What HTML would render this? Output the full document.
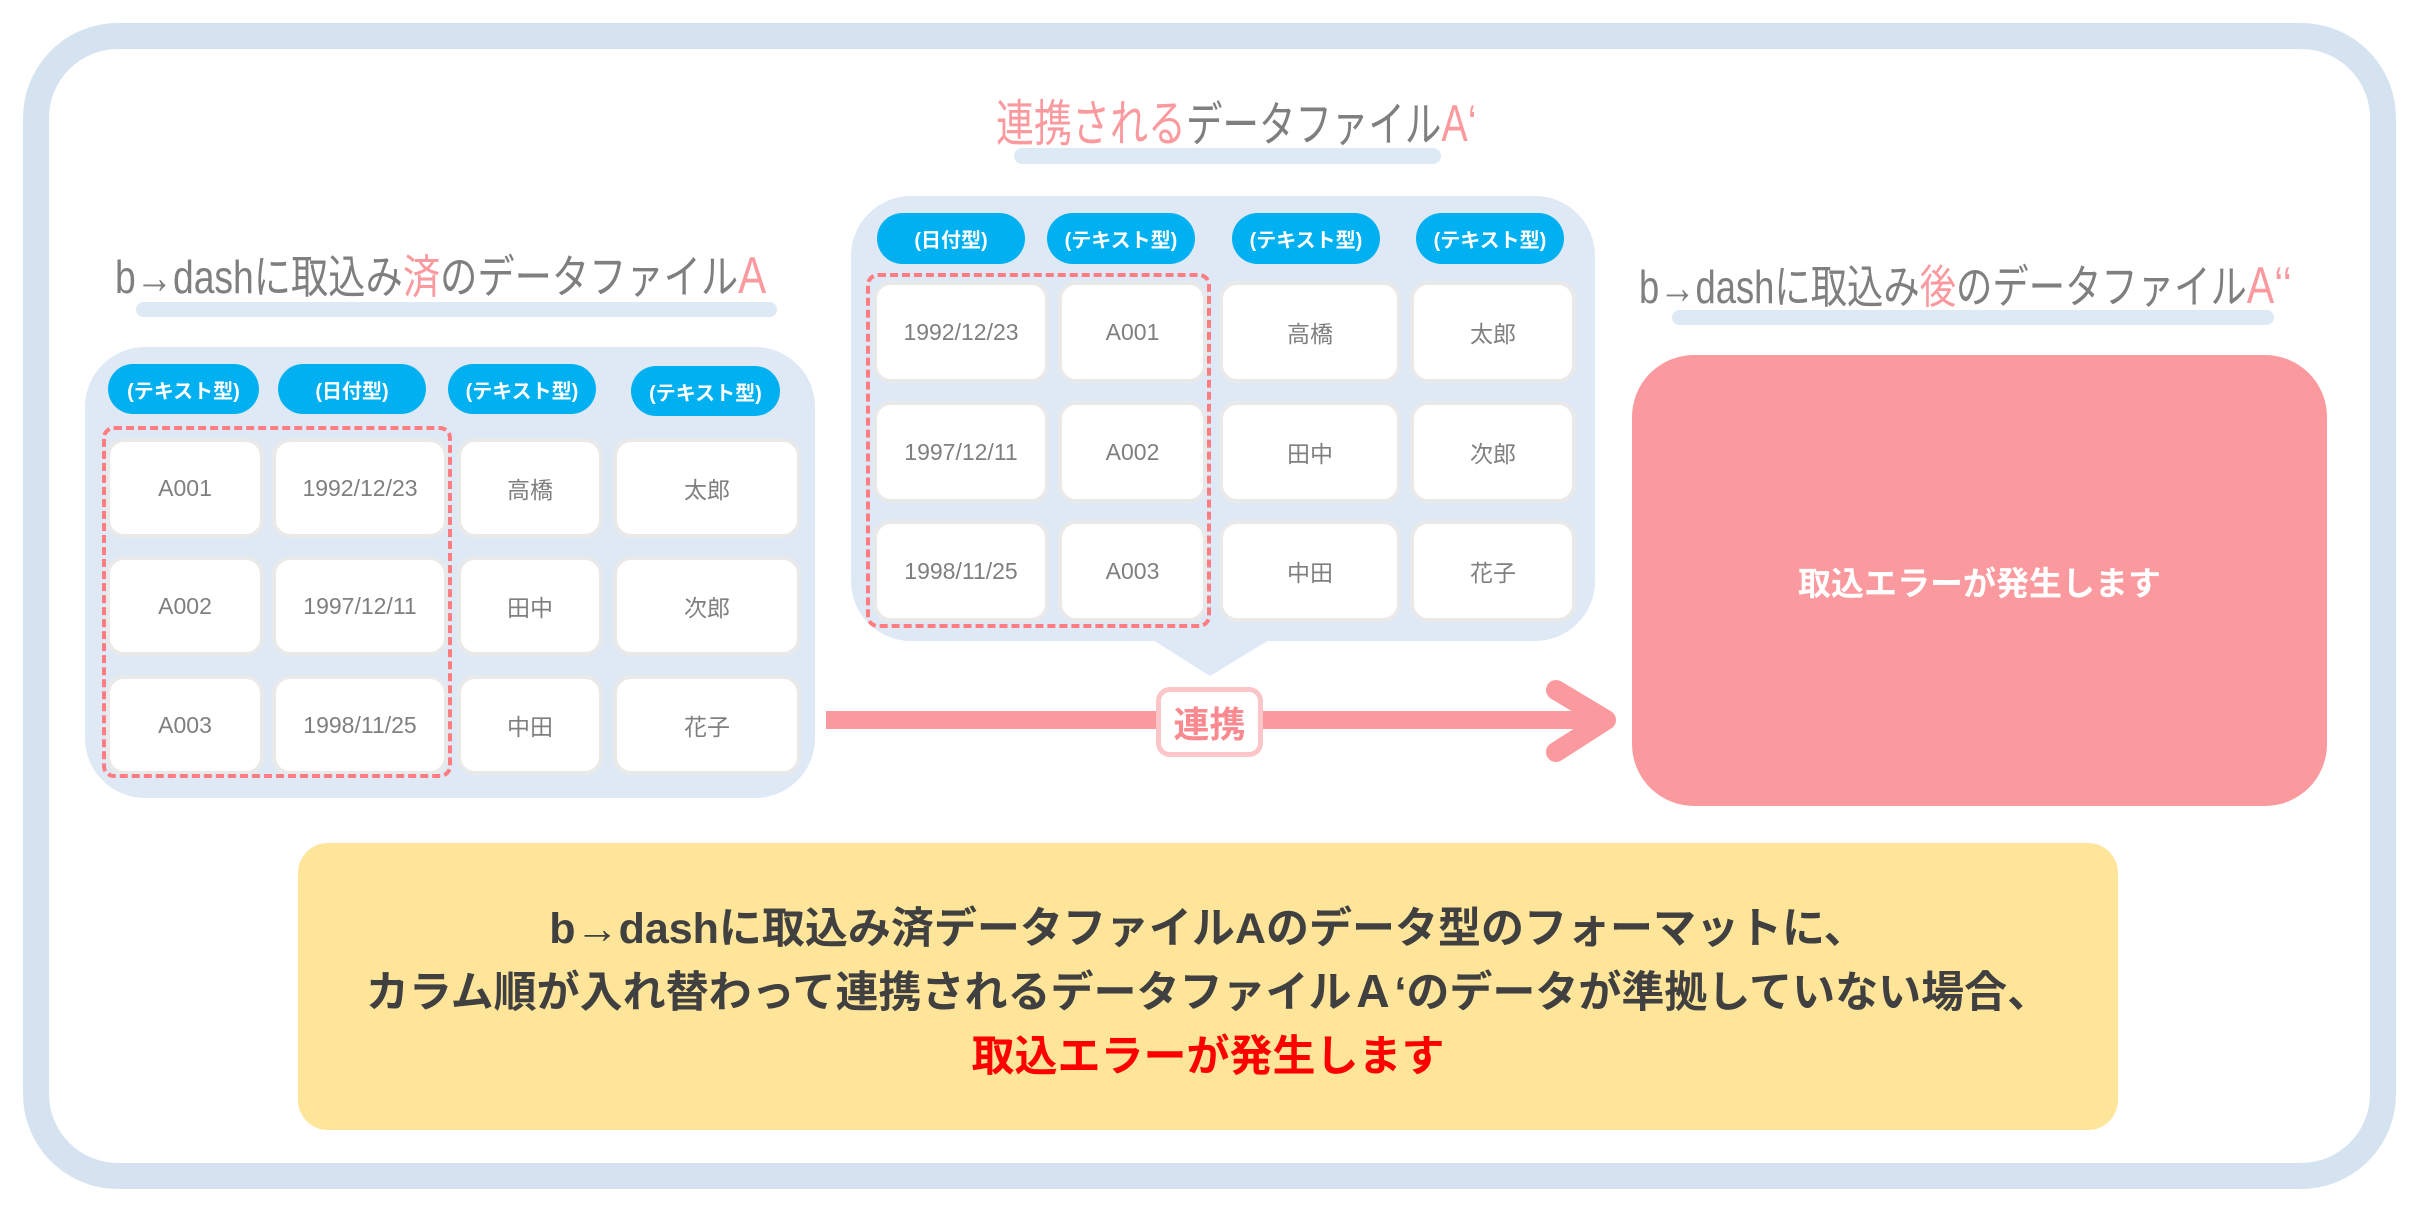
<!DOCTYPE html>
<html><head><meta charset="utf-8"><style>
*{margin:0;padding:0;box-sizing:border-box}
body{width:2421px;height:1211px;background:#fff;position:relative;overflow:hidden;font-family:"Liberation Sans","Noto Sans CJK JP",sans-serif}
.a{position:absolute}
.frame{left:23px;top:23px;width:2373px;height:1166px;border:26px solid #d5e3f0;border-radius:95px;background:#fff}
.bar{background:#dde9f4;border-radius:10px}
.title{font-size:46px;color:#7f7f7f;white-space:nowrap;line-height:1;transform-origin:left top}
.pk{color:#fa9a9f}
.panel{background:#dee9f5;border-radius:60px}
.pill{background:#00b0f0;color:#fff;font-weight:bold;font-size:20px;border-radius:26px;display:flex;align-items:center;justify-content:center}
.cell{background:#fff;border:4px solid #e9e9e9;border-radius:18px;color:#7f7f7f;font-size:23px;display:flex;align-items:center;justify-content:center}
.dash{border:4px dashed #ff7c80;border-radius:12px}
</style></head><body>
<div class="a frame"></div>

<!-- left title -->
<div class="a bar" style="left:136px;top:302px;width:641px;height:15px"></div>
<div class="a title" style="left:115px;top:250px;transform:scaleX(0.81)">b→dashに取込み<span class="pk">済</span>のデータファイル<span class="pk" style="font-size:52px">A</span></div>

<!-- left panel -->
<div class="a panel" style="left:85px;top:347px;width:730px;height:451px"></div>
<div class="a pill" style="left:108px;top:364px;width:151px;height:50px">(テキスト型)</div>
<div class="a pill" style="left:278px;top:364px;width:148px;height:50px">(日付型)</div>
<div class="a pill" style="left:448px;top:364px;width:148px;height:50px">(テキスト型)</div>
<div class="a pill" style="left:631px;top:366px;width:149px;height:50px">(テキスト型)</div>

<div class="a cell" style="left:106px;top:438px;width:158px;height:100px">A001</div>
<div class="a cell" style="left:272px;top:438px;width:176px;height:100px">1992/12/23</div>
<div class="a cell" style="left:457px;top:438px;width:146px;height:100px">高橋</div>
<div class="a cell" style="left:613px;top:438px;width:188px;height:100px">太郎</div>
<div class="a cell" style="left:106px;top:556px;width:158px;height:100px">A002</div>
<div class="a cell" style="left:272px;top:556px;width:176px;height:100px">1997/12/11</div>
<div class="a cell" style="left:457px;top:556px;width:146px;height:100px">田中</div>
<div class="a cell" style="left:613px;top:556px;width:188px;height:100px">次郎</div>
<div class="a cell" style="left:106px;top:675px;width:158px;height:100px">A003</div>
<div class="a cell" style="left:272px;top:675px;width:176px;height:100px">1998/11/25</div>
<div class="a cell" style="left:457px;top:675px;width:146px;height:100px">中田</div>
<div class="a cell" style="left:613px;top:675px;width:188px;height:100px">花子</div>
<div class="a dash" style="left:102px;top:426px;width:350px;height:352px"></div>

<!-- middle title -->
<div class="a bar" style="left:1014px;top:148px;width:427px;height:16px"></div>
<div class="a title" style="left:996px;top:98px;font-size:48px;transform:scaleX(0.76)"><span class="pk" style="font-size:50px">連携される</span>データファイル<span class="pk" style="font-size:52px">A‘</span></div>

<!-- middle panel -->
<div class="a panel" style="left:851px;top:196px;width:744px;height:445px"></div>
<svg class="a" style="left:0;top:0" width="2421" height="1211"><polygon points="1153,640 1269,640 1210,676" fill="#dee9f5"/></svg>
<div class="a pill" style="left:877px;top:213px;width:148px;height:51px">(日付型)</div>
<div class="a pill" style="left:1047px;top:213px;width:148px;height:51px">(テキスト型)</div>
<div class="a pill" style="left:1232px;top:213px;width:148px;height:51px">(テキスト型)</div>
<div class="a pill" style="left:1416px;top:213px;width:148px;height:51px">(テキスト型)</div>

<div class="a cell" style="left:873px;top:281px;width:176px;height:102px">1992/12/23</div>
<div class="a cell" style="left:1058px;top:281px;width:149px;height:102px">A001</div>
<div class="a cell" style="left:1219px;top:281px;width:182px;height:102px">高橋</div>
<div class="a cell" style="left:1410px;top:281px;width:166px;height:102px">太郎</div>
<div class="a cell" style="left:873px;top:401px;width:176px;height:102px">1997/12/11</div>
<div class="a cell" style="left:1058px;top:401px;width:149px;height:102px">A002</div>
<div class="a cell" style="left:1219px;top:401px;width:182px;height:102px">田中</div>
<div class="a cell" style="left:1410px;top:401px;width:166px;height:102px">次郎</div>
<div class="a cell" style="left:873px;top:520px;width:176px;height:102px">1998/11/25</div>
<div class="a cell" style="left:1058px;top:520px;width:149px;height:102px">A003</div>
<div class="a cell" style="left:1219px;top:520px;width:182px;height:102px">中田</div>
<div class="a cell" style="left:1410px;top:520px;width:166px;height:102px">花子</div>
<div class="a dash" style="left:866px;top:273px;width:345px;height:355px"></div>

<!-- arrow -->
<svg class="a" style="left:0;top:0" width="2421" height="1211">
<line x1="826" y1="720" x2="1600" y2="720" stroke="#fa9a9f" stroke-width="18"/>
<polyline points="1556,690 1606,720 1556,752" fill="none" stroke="#fa9a9f" stroke-width="20" stroke-linecap="round" stroke-linejoin="round"/>
</svg>
<div class="a" style="left:1156px;top:687px;width:107px;height:70px;background:#fff;border:5px solid #fcc5c8;border-radius:14px;color:#fa8a90;font-weight:bold;font-size:36px;display:flex;align-items:center;justify-content:center">連携</div>

<!-- right title -->
<div class="a bar" style="left:1672px;top:310px;width:602px;height:15px"></div>
<div class="a title" style="left:1639px;top:260px;transform:scaleX(0.79)">b→dashに取込み<span class="pk">後</span>のデータファイル<span class="pk" style="font-size:52px">A‘‘</span></div>

<div class="a" style="left:1632px;top:355px;width:695px;height:451px;background:#fa9a9f;border-radius:62px;color:#fff;font-weight:bold;font-size:33px;display:flex;align-items:center;justify-content:center">取込エラーが発生します</div>

<!-- yellow box -->
<div class="a" style="left:298px;top:843px;width:1820px;height:287px;background:#fee599;border-radius:30px;color:#404040;font-weight:bold;font-size:43px;line-height:64px;text-align:center;padding-top:54px">
b→dashに取込み済データファイルAのデータ型のフォーマットに、<br>カラム順が入れ替わって連携されるデータファイルＡ‘のデータが準拠していない場合、<br><span style="color:#ff0000">取込エラーが発生します</span></div>
</body></html>
